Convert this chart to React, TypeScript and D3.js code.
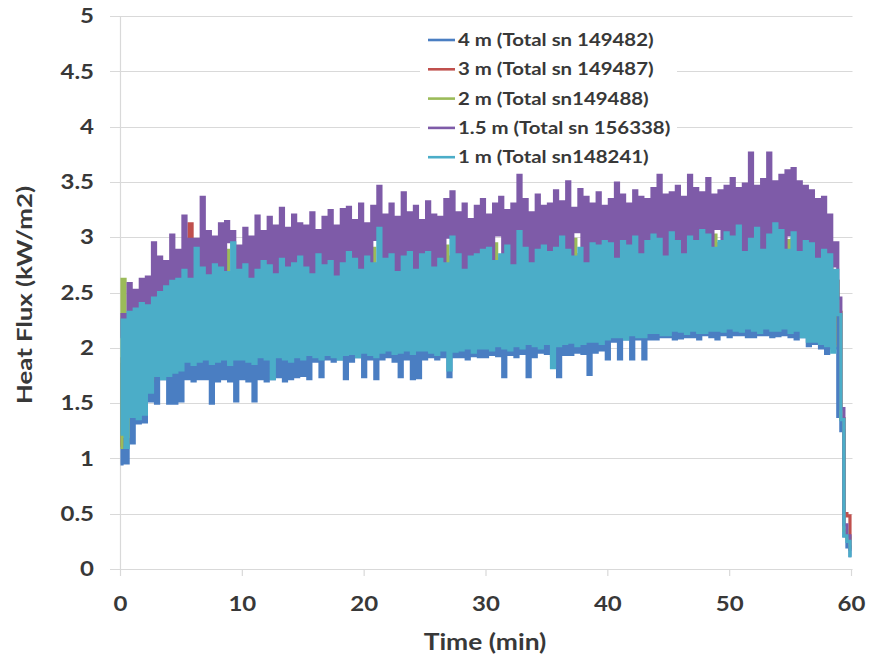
import React from 'react';
import * as d3 from 'd3';

// ---- data (Heat flux in kW/m2, sampled every 0.25 min, 0..60 min) ----
const STEP_MIN = 0.25;
const X_TICKS = [0, 10, 20, 30, 40, 50, 60];
const Y_TICKS = [0, 0.5, 1, 1.5, 2, 2.5, 3, 3.5, 4, 4.5, 5];
const X_TITLE = 'Time (min)';
const Y_TITLE = 'Heat Flux (kW/m2)';
const SERIES_NAMES = [
  '4 m (Total sn 149482)',
  '3 m (Total sn 149487)',
  '2 m (Total sn149488)',
  '1.5 m (Total sn 156338)',
  '1 m (Total sn148241)',
];
const SERIES_COLORS = ['#4A7EC2', '#C0504D', '#9BBB59', '#7E5BA8', '#4BADC8'];

const FLUX_4M = [
  0.95, 1.85, 0.96, 2.00, 1.14, 2.05, 1.32, 2.10, 1.33, 2.15, 1.52, 2.20, 1.50, 2.25, 1.72, 2.30, 1.50, 2.30, 1.50, 2.35,
  1.52, 2.38, 1.72, 2.32, 1.70, 2.40, 1.72, 2.36, 1.72, 2.40, 1.50, 2.38, 1.70, 2.42, 1.72, 2.40, 1.70, 2.38, 1.52, 2.42,
  1.72, 2.44, 1.70, 2.40, 1.52, 2.42, 1.72, 2.46, 1.70, 2.44, 1.72, 2.42, 1.74, 2.46, 1.70, 2.44, 1.72, 2.48, 1.74, 2.45,
  1.75, 2.46, 1.72, 2.50, 1.88, 2.48, 1.74, 2.46, 1.90, 2.50, 1.88, 2.48, 1.90, 2.46, 1.72, 2.52, 1.88, 2.50, 1.92, 2.48,
  1.74, 2.52, 1.90, 2.50, 1.72, 2.54, 1.90, 2.50, 1.92, 2.52, 1.88, 2.56, 1.74, 2.50, 1.90, 2.54, 1.72, 2.56, 1.73, 2.52,
  1.90, 2.54, 1.92, 2.58, 1.90, 2.56, 1.92, 2.52, 1.74, 2.58, 1.92, 2.54, 1.92, 2.56, 1.90, 2.58, 1.93, 2.60, 1.92, 2.56,
  1.92, 2.58, 1.94, 2.60, 1.93, 2.62, 1.74, 2.58, 1.94, 2.60, 1.92, 2.64, 1.95, 2.62, 1.74, 2.60, 1.92, 2.64, 1.96, 2.62,
  1.95, 2.66, 1.93, 2.60, 1.74, 2.62, 1.94, 2.66, 1.94, 2.68, 1.96, 2.64, 1.95, 2.66, 1.76, 2.68, 1.96, 2.64, 1.98, 2.70,
  1.90, 2.70, 2.06, 2.72, 1.90, 2.68, 2.08, 2.74, 1.90, 2.72, 2.08, 2.70, 1.90, 2.74, 2.08, 2.70, 2.08, 2.72, 2.10, 2.76,
  2.10, 2.74, 2.08, 2.78, 2.09, 2.76, 2.10, 2.74, 2.10, 2.78, 2.08, 2.76, 2.12, 2.74, 2.10, 2.80, 2.08, 2.78, 2.12, 2.76,
  2.10, 2.80, 2.12, 2.78, 2.12, 2.76, 2.10, 2.82, 2.10, 2.80, 2.12, 2.78, 2.12, 2.82, 2.10, 2.80, 2.11, 2.78, 2.12, 2.82,
  2.10, 2.80, 2.08, 2.78, 2.10, 2.76, 2.02, 2.74, 2.04, 2.72, 2.00, 2.70, 1.95, 2.64, 2.00, 2.60, 1.38, 1.25, 0.30, 0.20,
  0.12,
];

const FLUX_3M = [
  1.12, 1.90, 1.15, 2.05, 1.40, 2.10, 1.45, 2.20, 1.60, 2.25, 1.70, 2.30, 1.80, 2.40, 1.85, 2.45, 1.85, 2.50, 1.90, 2.55,
  1.90, 2.60, 1.92, 3.12, 1.95, 2.62, 1.95, 2.58, 1.98, 2.60, 1.96, 2.64, 2.00, 2.62, 1.98, 2.60, 1.98, 2.66, 2.00, 2.62,
  2.00, 2.64, 2.02, 2.66, 2.02, 2.62, 2.00, 2.68, 2.00, 2.66, 2.02, 2.64, 2.04, 2.68, 2.02, 2.66, 2.02, 2.70, 2.04, 2.66,
  2.04, 2.68, 2.06, 2.72, 2.06, 2.70, 2.04, 2.68, 2.04, 2.72, 2.06, 2.70, 2.06, 2.68, 2.08, 2.74, 2.08, 2.72, 2.06, 2.70,
  2.06, 2.74, 2.08, 2.72, 2.08, 2.70, 2.10, 2.76, 2.10, 2.74, 2.08, 2.72, 2.08, 2.76, 2.10, 2.74, 2.10, 2.72, 2.12, 2.78,
  2.12, 2.76, 2.10, 2.74, 2.10, 2.78, 2.12, 2.76, 2.12, 2.74, 2.14, 2.80, 2.14, 2.78, 2.12, 2.76, 2.12, 2.80, 2.14, 2.78,
  2.14, 2.76, 2.16, 2.82, 2.16, 2.80, 2.14, 2.78, 2.14, 2.82, 2.16, 2.80, 2.16, 2.78, 2.18, 2.84, 2.18, 2.82, 2.16, 2.80,
  2.16, 2.84, 2.18, 2.82, 2.18, 2.80, 2.20, 2.86, 2.20, 2.84, 2.18, 2.82, 2.18, 2.86, 2.20, 2.84, 2.20, 2.82, 2.22, 2.88,
  2.22, 2.86, 2.20, 2.84, 2.20, 2.88, 2.22, 2.86, 2.22, 2.84, 2.24, 2.90, 2.24, 2.88, 2.22, 2.86, 2.22, 2.90, 2.24, 2.88,
  2.24, 2.86, 2.26, 2.95, 2.26, 2.90, 2.24, 2.88, 2.24, 2.92, 2.26, 2.90, 2.26, 2.88, 2.28, 2.94, 2.28, 2.92, 2.26, 2.90,
  2.26, 2.94, 2.28, 2.92, 2.28, 2.90, 2.30, 2.96, 2.30, 2.94, 2.28, 2.92, 2.28, 2.96, 2.30, 2.94, 2.30, 2.92, 2.28, 2.96,
  2.28, 2.94, 2.26, 2.90, 2.24, 2.88, 2.20, 2.86, 2.18, 2.84, 2.14, 2.80, 2.10, 2.76, 2.04, 2.60, 2.32, 1.36, 0.50, 0.48,
  0.28,
];

const FLUX_2M = [
  1.10, 2.62, 1.20, 2.10, 1.45, 2.15, 1.50, 2.25, 1.65, 2.35, 1.72, 2.40, 1.82, 2.46, 1.88, 2.50, 1.88, 2.55, 1.92, 2.52,
  1.92, 2.58, 1.95, 2.62, 1.96, 2.66, 1.98, 2.60, 1.98, 2.62, 2.00, 2.68, 2.00, 2.70, 1.98, 2.88, 2.02, 2.66, 2.00, 2.72,
  2.02, 2.68, 2.04, 2.64, 2.00, 2.70, 2.02, 2.66, 2.04, 2.72, 2.02, 2.68, 2.06, 2.66, 2.04, 2.74, 2.04, 2.68, 2.06, 2.72,
  2.06, 2.74, 2.04, 2.70, 2.08, 2.68, 2.06, 2.76, 2.06, 2.72, 2.08, 2.70, 2.08, 2.76, 2.06, 2.72, 2.10, 2.70, 2.08, 2.78,
  2.08, 2.72, 2.10, 2.90, 2.10, 2.74, 2.08, 2.72, 2.10, 2.80, 2.12, 2.74, 2.12, 2.72, 2.10, 2.78, 2.12, 2.80, 2.10, 2.74,
  2.14, 2.76, 2.12, 2.82, 2.12, 2.78, 2.14, 2.92, 2.14, 2.82, 2.12, 2.76, 2.16, 2.78, 2.14, 2.84, 2.14, 2.80, 2.16, 2.76,
  2.16, 2.84, 2.14, 2.94, 2.18, 2.80, 2.16, 2.86, 2.16, 2.80, 2.18, 2.78, 2.18, 2.86, 2.16, 2.82, 2.20, 2.80, 2.18, 2.88,
  2.18, 2.82, 2.20, 2.86, 2.20, 2.84, 2.18, 2.82, 2.22, 2.98, 2.20, 2.84, 2.22, 2.82, 2.20, 2.88, 2.22, 2.90, 2.20, 2.86,
  2.24, 2.88, 2.22, 2.92, 2.22, 2.86, 2.24, 2.90, 2.24, 2.94, 2.22, 2.88, 2.26, 2.90, 2.24, 2.94, 2.24, 2.88, 2.26, 2.92,
  2.26, 2.96, 2.24, 2.90, 2.28, 2.92, 2.26, 2.96, 2.26, 2.90, 2.28, 2.94, 2.28, 2.98, 2.26, 3.02, 2.30, 2.94, 2.28, 2.98,
  2.28, 2.92, 2.30, 2.96, 2.30, 3.00, 2.28, 2.94, 2.32, 2.96, 2.30, 3.00, 2.30, 2.94, 2.32, 2.98, 2.32, 2.96, 2.30, 2.97,
  2.30, 2.98, 2.28, 2.92, 2.26, 2.90, 2.22, 2.88, 2.18, 2.86, 2.14, 2.82, 2.10, 2.72, 2.02, 2.60, 2.32, 1.36, 0.35, 0.28,
  0.20,
];

const FLUX_1_5M = [
  2.10, 2.30, 2.05, 2.58, 2.20, 2.52, 2.25, 2.62, 2.30, 2.64, 2.35, 2.95, 2.40, 2.82, 2.45, 2.78, 2.45, 3.02, 2.50, 2.88,
  2.50, 3.19, 2.55, 2.98, 2.55, 2.98, 2.50, 3.36, 2.60, 3.05, 2.55, 3.00, 2.60, 3.12, 2.62, 3.14, 2.96, 3.05, 2.55, 2.92,
  2.60, 3.08, 2.62, 3.00, 2.60, 3.19, 2.65, 3.05, 2.62, 3.18, 2.60, 3.10, 2.65, 3.26, 2.62, 3.08, 2.60, 3.20, 2.66, 3.12,
  2.64, 3.10, 2.60, 3.22, 2.62, 3.06, 2.68, 3.18, 2.66, 3.24, 2.62, 3.10, 2.65, 3.25, 2.70, 3.27, 2.62, 3.15, 2.68, 3.30,
  2.66, 3.12, 2.64, 3.28, 2.98, 3.46, 2.65, 3.20, 2.66, 3.30, 2.70, 3.18, 2.65, 3.40, 2.68, 3.22, 2.70, 3.28, 2.66, 3.15,
  2.68, 3.32, 2.72, 3.20, 2.66, 3.18, 2.70, 3.34, 3.00, 3.41, 2.68, 3.22, 2.70, 3.30, 2.66, 3.16, 2.68, 3.28, 2.72, 3.34,
  2.70, 3.20, 2.74, 3.30, 3.02, 3.36, 2.70, 3.24, 2.74, 3.30, 2.72, 3.56, 2.70, 3.34, 2.76, 3.22, 2.74, 3.38, 2.72, 3.28,
  2.76, 3.30, 2.74, 3.42, 2.72, 3.32, 2.78, 3.50, 2.76, 3.26, 3.05, 3.43, 2.78, 3.36, 2.76, 3.30, 2.75, 3.40, 2.78, 3.28,
  2.80, 3.34, 2.76, 3.49, 2.78, 3.38, 2.80, 3.30, 2.82, 3.42, 2.78, 3.36, 2.80, 3.34, 2.82, 3.44, 2.78, 3.56, 2.80, 3.38,
  2.82, 3.40, 2.84, 3.46, 2.80, 3.36, 2.82, 3.56, 2.84, 3.44, 2.80, 3.40, 2.82, 3.53, 2.84, 3.38, 3.08, 3.42, 2.84, 3.46,
  2.84, 3.53, 2.82, 3.44, 2.86, 3.48, 2.82, 3.76, 2.84, 3.46, 2.86, 3.52, 2.86, 3.76, 2.84, 3.50, 2.88, 3.56, 2.86, 3.60,
  3.02, 3.62, 2.88, 3.50, 2.86, 3.46, 2.84, 3.42, 2.82, 3.34, 2.80, 3.36, 2.78, 3.20, 2.74, 2.95, 2.45, 1.45, 0.40, 0.30,
  0.18,
];

const FLUX_1M = [
  1.22, 2.25, 1.10, 2.32, 1.38, 2.35, 1.36, 2.40, 1.40, 2.38, 1.60, 2.45, 1.75, 2.50, 1.72, 2.55, 1.75, 2.60, 1.78, 2.62,
  1.80, 2.70, 1.88, 2.62, 1.85, 2.90, 1.88, 2.72, 1.90, 2.65, 1.86, 2.75, 1.88, 2.72, 1.90, 2.68, 1.85, 2.95, 1.90, 2.70,
  1.90, 2.75, 1.88, 2.62, 1.86, 2.70, 1.92, 2.78, 1.90, 2.74, 1.72, 2.66, 1.92, 2.80, 1.90, 2.72, 1.88, 2.76, 1.92, 2.82,
  1.90, 2.72, 1.94, 2.66, 1.92, 2.84, 1.90, 2.74, 1.94, 2.78, 1.92, 2.64, 1.90, 2.76, 1.94, 2.86, 1.95, 2.80, 1.92, 2.70,
  1.96, 2.82, 1.94, 2.76, 1.92, 3.08, 1.96, 2.80, 1.98, 2.84, 1.95, 2.68, 1.96, 2.82, 1.98, 2.86, 1.95, 2.70, 1.98, 2.84,
  1.98, 2.86, 1.96, 2.72, 1.94, 2.80, 1.98, 2.76, 1.80, 3.00, 1.97, 2.84, 1.98, 2.70, 2.00, 2.82, 1.96, 2.84, 2.00, 2.88,
  2.00, 2.90, 1.98, 2.78, 2.02, 2.84, 2.00, 2.92, 1.98, 2.74, 2.02, 3.05, 2.00, 2.90, 2.04, 2.76, 2.02, 2.88, 2.00, 2.92,
  2.04, 2.86, 1.82, 2.90, 2.02, 3.00, 2.04, 2.88, 2.05, 2.82, 2.02, 2.90, 2.04, 2.76, 2.06, 2.94, 2.06, 2.92, 2.04, 2.96,
  2.08, 2.94, 2.10, 2.80, 2.10, 2.96, 2.08, 2.92, 2.12, 3.00, 2.10, 2.84, 2.10, 2.96, 2.14, 3.02, 2.14, 2.98, 2.12, 2.82,
  2.12, 3.04, 2.16, 2.96, 2.15, 2.84, 2.13, 3.00, 2.16, 2.96, 2.14, 3.06, 2.14, 3.02, 2.16, 2.90, 2.16, 2.96, 2.15, 3.04,
  2.18, 3.00, 2.16, 3.10, 2.15, 2.86, 2.18, 2.98, 2.16, 3.08, 2.14, 2.88, 2.18, 3.02, 2.16, 3.12, 2.16, 3.06, 2.18, 2.88,
  2.14, 3.04, 2.16, 2.86, 2.10, 2.96, 2.06, 2.94, 2.06, 2.80, 2.04, 2.88, 2.02, 2.84, 1.96, 2.70, 2.30, 1.35, 0.30, 0.25,
  0.12,
];

const SERIES_VALUES = [FLUX_4M, FLUX_3M, FLUX_2M, FLUX_1_5M, FLUX_1M];

// ---- layout ----
const W = 870;
const H = 660;
const FONT = 'Lato, "Open Sans", "DejaVu Sans", sans-serif';
const TEXT_COLOR = '#383838';
const GRID_COLOR = '#d9d9d9';
const TEXT_STRETCH = 1.2;

function Label(props: {
  x: number;
  y: number;
  size: number;
  anchor?: string;
  rotate?: number;
  dy?: string;
  children: string;
}) {
  const { x, y, size, anchor = 'start', rotate = 0, dy = '0', children } = props;
  return (
    <text
      transform={`translate(${x},${y}) rotate(${rotate}) scale(${TEXT_STRETCH},1)`}
      textAnchor={anchor}
      dy={dy}
      fontFamily={FONT}
      fontWeight={700}
      fontSize={size}
      fill={TEXT_COLOR}
    >
      {children}
    </text>
  );
}

export default function App() {
  const x = d3.scaleLinear().domain([0, 60]).range([120.5, 851.5]);
  const y = d3.scaleLinear().domain([0, 5]).range([569, 16]);

  const line = d3
    .line<number>()
    .x((_, i) => x(i * STEP_MIN))
    .y((v) => y(v))
    .curve(d3.curveStep);

  const legendX = 428;
  const legendY0 = 40;
  const legendDy = 29.3;

  return (
    <svg
      width={W}
      height={H}
      viewBox={`0 0 ${W} ${H}`}
      style={{ position: 'absolute', left: 0, top: 0, background: '#fff' }}
    >
      <rect x={0} y={0} width={W} height={H} fill="#fff" />
      {Y_TICKS.map((t) => (
        <line
          key={'g' + t}
          x1={110}
          x2={x(60) + 1}
          y1={Math.round(y(t)) + 0.5}
          y2={Math.round(y(t)) + 0.5}
          stroke={GRID_COLOR}
          strokeWidth={1.2}
        />
      ))}
      <line x1={x(0)} x2={x(0)} y1={y(5)} y2={y(0)} stroke={GRID_COLOR} strokeWidth={1.2} />
      {X_TICKS.map((t) => (
        <line key={'xt' + t} x1={x(t)} x2={x(t)} y1={y(0)} y2={y(0) + 7} stroke={GRID_COLOR} strokeWidth={1.2} />
      ))}

      {SERIES_VALUES.map((vals, si) => (
        <path
          key={'s' + si}
          d={line(vals) || ''}
          fill="none"
          stroke={SERIES_COLORS[si]}
          strokeWidth={3.2}
          strokeLinejoin="miter"
        />
      ))}

      {Y_TICKS.map((t) => (
        <Label key={'yl' + t} x={94} y={y(t)} size={20} anchor="end" dy="0.36em">
          {String(t)}
        </Label>
      ))}
      {X_TICKS.map((t) => (
        <Label key={'xl' + t} x={x(t)} y={611} size={20} anchor="middle">
          {String(t)}
        </Label>
      ))}

      <Label x={485} y={650} size={22} anchor="middle">
        {X_TITLE}
      </Label>
      <Label x={32} y={295} size={21.5} anchor="middle" rotate={-90}>
        {Y_TITLE}
      </Label>

      <rect x={420} y={26} width={257} height={146} fill="#fff" />
      {SERIES_NAMES.map((name, i) => {
        const ly = legendY0 + i * legendDy;
        return (
          <g key={'lg' + i}>
            <line x1={legendX} x2={legendX + 27} y1={ly} y2={ly} stroke={SERIES_COLORS[i]} strokeWidth={2.6} />
            <Label x={legendX + 30} y={ly} size={17} dy="0.36em">
              {name}
            </Label>
          </g>
        );
      })}
    </svg>
  );
}
